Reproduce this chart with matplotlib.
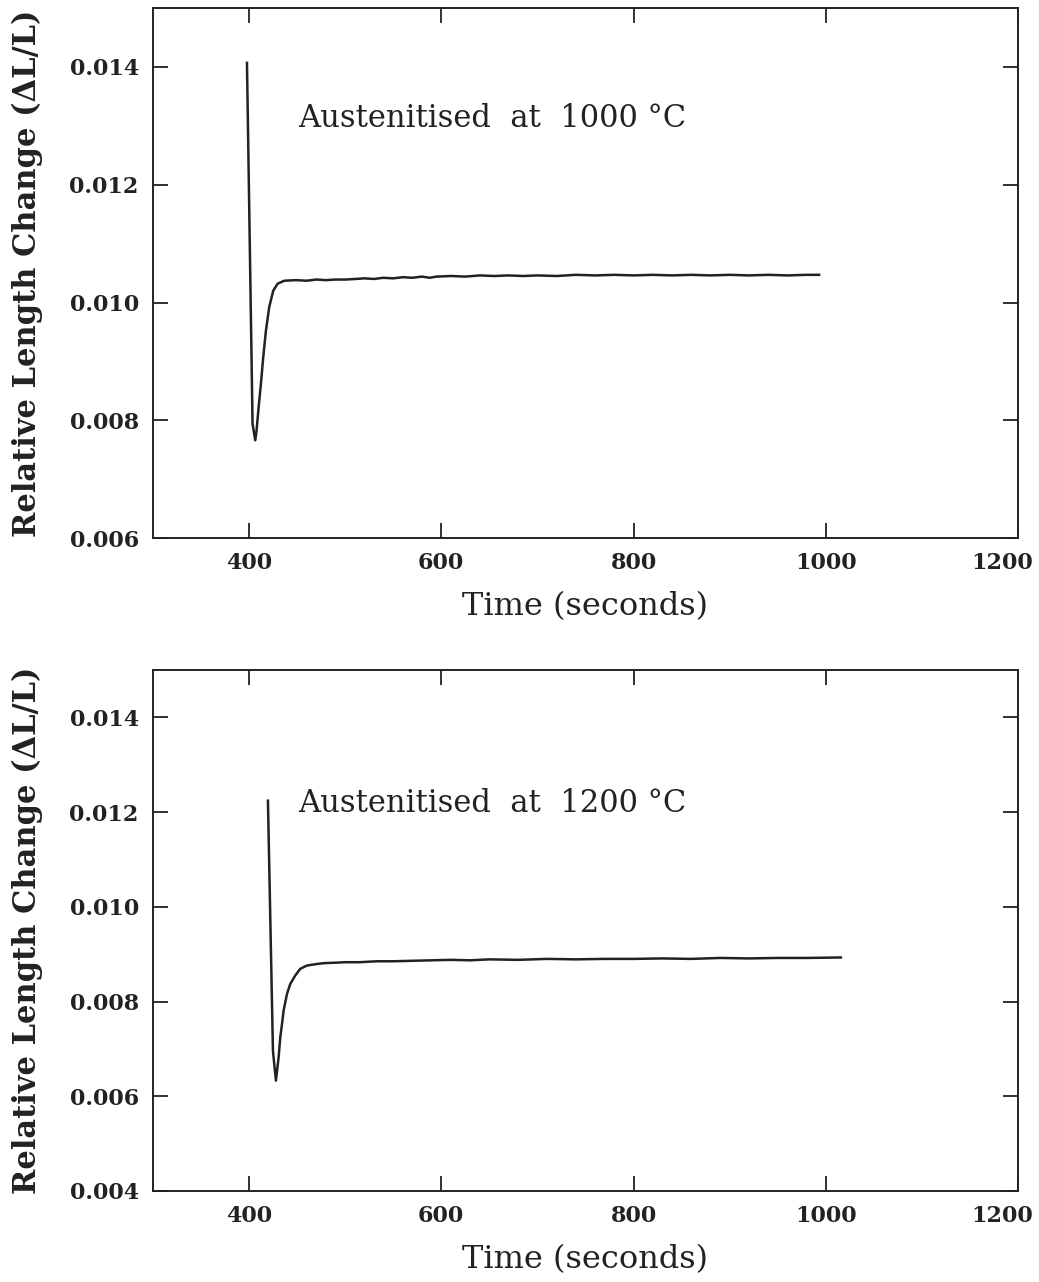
import numpy as np
import matplotlib
matplotlib.use('Agg')
import matplotlib.pyplot as plt
import matplotlib.transforms as mtransforms

# top panel: austenitised at 1000 C
t_1000 = [398.0, 403.8, 406.6, 408.0, 410.1, 412.5, 414.9, 417.7, 421.1, 425.3, 429.9,
          436.8, 449, 460, 470, 480, 490, 500, 511, 520, 530, 540, 550, 560,
          570, 580, 588, 595, 610, 625, 640, 655, 670, 685, 700, 720, 740, 760,
          780, 800, 820, 840, 860, 880, 900, 920, 940, 960, 980, 993]
v_1000 = [0.01407, 0.00794, 0.00766, 0.00783, 0.00822, 0.00862, 0.00907, 0.00952,
          0.00992, 0.01020, 0.01032, 0.01037, 0.01038, 0.01037, 0.01039, 0.01038,
          0.01039, 0.01039, 0.01040, 0.01041, 0.01040, 0.01042, 0.01041, 0.01043,
          0.01042, 0.01044, 0.01042, 0.01044, 0.01045, 0.01044, 0.01046, 0.01045,
          0.01046, 0.01045, 0.01046, 0.01045, 0.01047, 0.01046, 0.01047, 0.01046,
          0.01047, 0.01046, 0.01047, 0.01046, 0.01047, 0.01046, 0.01047, 0.01046,
          0.01047, 0.01047]

# bottom panel: austenitised at 1200 C
t_1200 = [419.8, 425.0, 428.1, 430.9, 432.6, 434.4, 436.1, 439.6, 443.0, 448.2, 453.4,
          460.4, 470, 477.8, 490, 500, 515, 533.3, 550, 570, 590, 610, 630, 650,
          680, 710, 740, 770, 800, 830, 860, 890, 920, 950, 980, 1015.6]
v_1200 = [0.01224, 0.00696, 0.00633, 0.00682, 0.00724, 0.00752, 0.00781, 0.00816,
          0.00837, 0.00855, 0.00869, 0.00876, 0.00879, 0.00881, 0.00882, 0.00883,
          0.00883, 0.00885, 0.00885, 0.00886, 0.00887, 0.00888, 0.00887, 0.00889,
          0.00888, 0.00890, 0.00889, 0.00890, 0.00890, 0.00891, 0.00890, 0.00892,
          0.00891, 0.00892, 0.00892, 0.00893]

xticks = [400, 600, 800, 1000, 1200]
yticks_top = [0.006, 0.008, 0.010, 0.012, 0.014]
yticks_bot = [0.004, 0.006, 0.008, 0.010, 0.012, 0.014]

plt.rcParams['font.family'] = 'DejaVu Serif'
ink = '#222222'

fig = plt.figure(figsize=(10.39, 12.82), dpi=100)
ax1 = fig.add_axes([0.147, 0.5803, 0.833, 0.4134])
ax2 = fig.add_axes([0.147, 0.0710, 0.833, 0.4064])

panels = [(ax1, t_1000, v_1000, yticks_top, (0.006, 0.015), 'Austenitised  at  1000 °C', 0.01312),
          (ax2, t_1200, v_1200, yticks_bot, (0.004, 0.015), 'Austenitised  at  1200 °C', 0.01218)]

for ax, t, v, yt, ylim, label, ty in panels:
    ax.plot(t, v, color=ink, lw=1.8)
    ax.set_xlim(300, 1200)
    ax.set_ylim(*ylim)
    ax.set_xticks(xticks)
    ax.set_yticks(yt)
    ax.set_xticklabels([str(x) for x in xticks])
    ax.set_yticklabels(['%.3f' % y for y in yt])
    ax.tick_params(direction='in', length=11, width=1.3, top=True, right=True,
                   labelsize=16, pad=10, color=ink)
    for lab in ax.get_xticklabels() + ax.get_yticklabels():
        lab.set_fontweight('bold')
        lab.set_color(ink)
    # last x label sits a bit left of the corner, as in the original
    last = ax.get_xticklabels()[-1]
    last.set_transform(last.get_transform() +
                       mtransforms.ScaledTranslation(-0.16, 0, fig.dpi_scale_trans))
    for s in ax.spines.values():
        s.set_linewidth(1.4)
        s.set_color(ink)
    ax.set_xlabel('Time (seconds)', fontsize=23, color=ink, labelpad=12)
    ax.set_ylabel('Relative Length Change (ΔL/L)', fontsize=22, fontweight='semibold',
                  color=ink)
    ax.yaxis.set_label_coords(-0.127, 0.5)
    ax.text(451, ty, label, fontsize=22, ha='left', va='center', color=ink)

fig.savefig('out.png', dpi=100)
